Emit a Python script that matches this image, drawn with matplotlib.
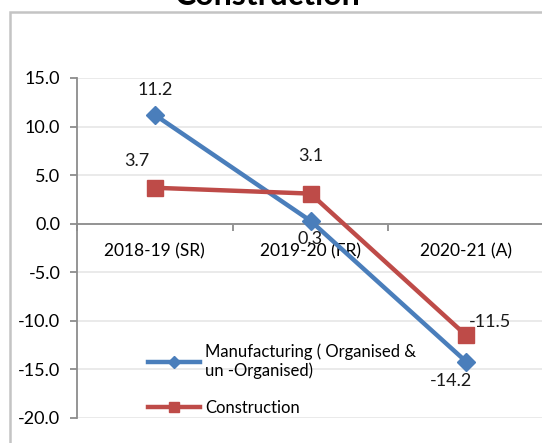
import matplotlib
matplotlib.use("Agg")
import matplotlib.pyplot as plt
from matplotlib.patches import Rectangle

plt.rcParams["font.family"] = ["Lato", "DejaVu Sans"]

# ── data ───────────────────────────────────────────────────────────────
years = ["2018-19 (SR)", "2019-20 (FR)", "2020-21 (A)"]
manufacturing = [11.2, 0.3, -14.2]
construction = [3.7, 3.1, -11.5]
yticks = [15, 10, 5, 0, -5, -10, -15, -20]

BLUE = "#4A7EBB"
RED = "#BE4B48"
W, H = 542, 443

fig = plt.figure(figsize=(W / 100, H / 100), dpi=100)
ax = fig.add_axes([77 / W, 1 - 418 / H, (544 - 77) / W, 340 / H])

x = list(range(len(years)))
ax.plot(x, manufacturing, color=BLUE, lw=3.2, marker="D", ms=9,
        label="Manufacturing ( Organised &\nun -Organised)", zorder=3)
ax.plot(x, construction, color=RED, lw=3.2, marker="s", ms=11,
        label="Construction", zorder=3)

# data labels
lbl = dict(fontsize=13, color="#1a1a1a", zorder=4)
ax.annotate(f"{manufacturing[0]:.1f}", (x[0], manufacturing[0]), xytext=(0, 18),
            textcoords="offset points", ha="center", va="center", **lbl)
ax.annotate(f"{manufacturing[1]:.1f}", (x[1], manufacturing[1]), xytext=(0, -13),
            textcoords="offset points", ha="center", va="center", **lbl)
ax.annotate(f"{manufacturing[2]:.1f}", (x[2], manufacturing[2]), xytext=(-11, -14),
            textcoords="offset points", ha="center", va="center", **lbl)
ax.annotate(f"{construction[0]:.1f}", (x[0], construction[0]), xytext=(-13, 19),
            textcoords="offset points", ha="center", va="center", **lbl)
ax.annotate(f"{construction[1]:.1f}", (x[1], construction[1]), xytext=(0, 27),
            textcoords="offset points", ha="center", va="center", **lbl)
ax.annotate(f"{construction[2]:.1f}", (x[2], construction[2]), xytext=(17, 10),
            textcoords="offset points", ha="center", va="center", **lbl)

ax.set_ylim(-20, 15)
ax.set_xlim(-0.5, 2.5)
ax.set_yticks(yticks)
ax.set_yticklabels([f"{v:.1f}" for v in yticks], fontsize=13)
ax.grid(axis="y", color="#E6E6E6", lw=1.2, zorder=0)
ax.set_axisbelow(True)

for s in ["top", "right"]:
    ax.spines[s].set_visible(False)
ax.spines["left"].set_color("#8C8C8C")
ax.spines["left"].set_linewidth(1.3)
ax.spines["bottom"].set_position(("data", 0))
ax.spines["bottom"].set_color("#8C8C8C")
ax.spines["bottom"].set_linewidth(1.3)
ax.tick_params(axis="y", length=5, width=1.3, color="#8C8C8C", pad=7)

ax.set_xticks(x)
ax.set_xticklabels(years, fontsize=12.5)
ax.set_xticks([-0.5, 0.5, 1.5, 2.5], minor=True)
ax.tick_params(axis="x", which="major", length=0, pad=14)
ax.tick_params(axis="x", which="minor", length=5, width=1.3, color="#8C8C8C")

leg = ax.legend(loc="upper left", bbox_to_anchor=(0.135, 0.245), frameon=False,
                fontsize=12, handlelength=3.1, handletextpad=0.3,
                labelspacing=1.25, markerscale=0.7, borderpad=0)

# chart frame and cut-off title
fig.add_artist(Rectangle((10 / W, -0.1), 1.2, 1 - 12 / H + 0.1,
                         transform=fig.transFigure, fill=False,
                         edgecolor="#C4C4C4", lw=1.8))
fig.text(268 / W, 1 - 5 / H, "Construction", ha="center", va="baseline",
         fontsize=23, fontweight="bold", color="black")

fig.savefig("out.png", dpi=100)
